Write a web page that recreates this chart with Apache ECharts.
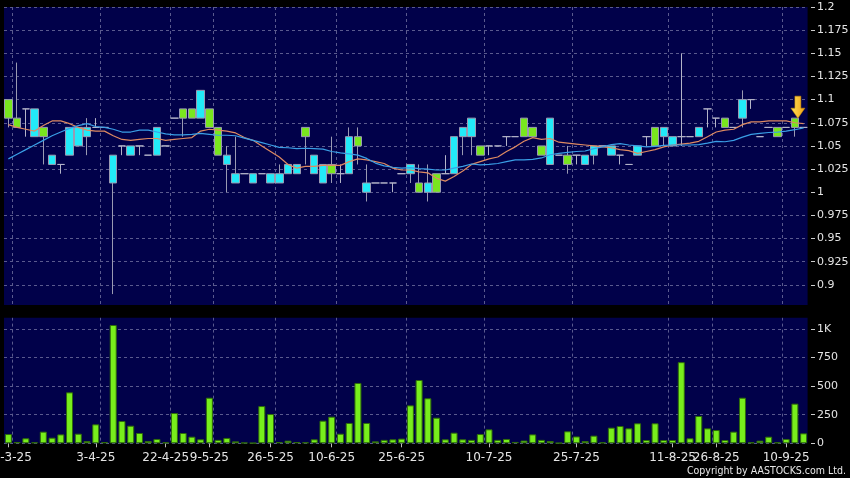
<!DOCTYPE html>
<html><head><meta charset="utf-8">
<script src="https://cdn.jsdelivr.net/npm/echarts@6/dist/echarts.min.js"></script>
<style>html,body{margin:0;padding:0;background:#000;}#c{width:850px;height:478px;}</style>
</head><body><div id="c"></div>
<script>
const categories = ['20-3-25','21-3-25','24-3-25','25-3-25','26-3-25','27-3-25','28-3-25','31-3-25','1-4-25','2-4-25',
'3-4-25','7-4-25','8-4-25','9-4-25','11-4-25','14-4-25','15-4-25','17-4-25','22-4-25','24-4-25',
'28-4-25','30-4-25','6-5-25','9-5-25','12-5-25','14-5-25','15-5-25','19-5-25','20-5-25','22-5-25',
'26-5-25','27-5-25','29-5-25','30-5-25','3-6-25','4-6-25','6-6-25','10-6-25','11-6-25','12-6-25',
'13-6-25','16-6-25','18-6-25','19-6-25','23-6-25','25-6-25','26-6-25','27-6-25','30-6-25','2-7-25',
'3-7-25','4-7-25','7-7-25','8-7-25','9-7-25','10-7-25','11-7-25','14-7-25','15-7-25','16-7-25',
'17-7-25','18-7-25','21-7-25','22-7-25','24-7-25','25-7-25','28-7-25','29-7-25','30-7-25','31-7-25',
'1-8-25','4-8-25','5-8-25','6-8-25','7-8-25','8-8-25','11-8-25','12-8-25','14-8-25','18-8-25',
'21-8-25','26-8-25','27-8-25','28-8-25','29-8-25','1-9-25','2-9-25','4-9-25','8-9-25','10-9-25',
'11-9-25','12-9-25'];

const opens = [1.10,1.08,1.09,1.06,1.07,1.03,1.03,1.04,1.05,1.06,
1.07,1.07,1.01,1.05,1.04,1.05,1.04,1.04,1.05,1.08,
1.09,1.09,1.08,1.09,1.07,1.03,1.01,1.02,1.01,1.02,
1.01,1.01,1.02,1.02,1.07,1.02,1.01,1.03,1.02,1.02,
1.06,1.00,1.01,1.01,1.01,1.02,1.02,1.01,1.00,1.02,
1.02,1.02,1.06,1.06,1.05,1.05,1.05,1.06,1.06,1.08,
1.07,1.05,1.03,1.04,1.04,1.04,1.03,1.04,1.05,1.04,
1.04,1.03,1.04,1.06,1.07,1.06,1.05,1.06,1.06,1.06,
1.09,1.08,1.08,1.07,1.08,1.10,1.06,1.07,1.07,1.07,
1.08,1.07];

const closes = [1.08,1.07,1.09,1.09,1.06,1.04,1.03,1.07,1.07,1.07,
1.07,1.07,1.04,1.05,1.05,1.05,1.04,1.07,1.05,1.08,
1.08,1.08,1.11,1.07,1.04,1.04,1.02,1.02,1.02,1.02,
1.02,1.02,1.03,1.03,1.06,1.04,1.03,1.02,1.02,1.06,
1.05,1.01,1.01,1.01,1.01,1.02,1.03,1.00,1.01,1.00,
1.02,1.06,1.07,1.08,1.04,1.05,1.05,1.06,1.06,1.06,
1.06,1.04,1.08,1.04,1.03,1.04,1.04,1.05,1.05,1.05,
1.04,1.03,1.05,1.06,1.05,1.07,1.06,1.06,1.06,1.07,
1.09,1.08,1.07,1.07,1.10,1.10,1.06,1.07,1.06,1.07,
1.07,1.07];

const lows = [1.07,1.07,1.06,1.06,1.03,1.03,1.02,1.04,1.05,1.04,
1.07,1.07,0.89,1.04,1.04,1.04,1.04,1.04,1.05,1.08,
1.06,1.08,1.08,1.07,1.04,1.00,1.01,1.02,1.01,1.02,
1.01,1.01,1.02,1.02,1.03,1.02,1.01,1.01,1.01,1.02,
1.03,0.99,1.01,1.01,1.00,1.02,1.01,1.00,0.99,1.00,
1.02,1.02,1.04,1.04,1.04,1.04,1.05,1.05,1.06,1.06,
1.06,1.04,1.03,1.04,1.02,1.03,1.03,1.03,1.05,1.04,
1.03,1.03,1.04,1.05,1.05,1.05,1.05,1.05,1.06,1.06,
1.07,1.07,1.07,1.07,1.07,1.09,1.06,1.07,1.06,1.07,
1.06,1.07];

const highs = [1.10,1.14,1.09,1.09,1.07,1.04,1.03,1.07,1.07,1.08,
1.08,1.07,1.04,1.05,1.05,1.05,1.04,1.07,1.05,1.08,
1.09,1.09,1.11,1.09,1.07,1.05,1.06,1.02,1.02,1.02,
1.02,1.03,1.03,1.03,1.07,1.04,1.03,1.06,1.03,1.07,
1.07,1.03,1.01,1.01,1.01,1.02,1.03,1.03,1.03,1.02,
1.04,1.06,1.07,1.08,1.05,1.05,1.05,1.06,1.06,1.08,
1.07,1.05,1.08,1.04,1.05,1.04,1.04,1.05,1.05,1.05,
1.04,1.03,1.05,1.06,1.07,1.07,1.06,1.15,1.06,1.07,
1.09,1.08,1.08,1.07,1.11,1.10,1.06,1.07,1.07,1.07,
1.08,1.07];

const volumes = [81,11,44,9,102,49,78,446,84,20,
166,11,1035,195,154,90,20,38,9,265,
90,58,35,399,30,47,17,6,3,326,
256,11,23,11,9,35,198,233,84,178,
528,178,17,30,35,41,332,554,394,224,
35,93,35,30,81,122,30,38,12,24,
78,30,20,3,105,60,20,67,9,137,
151,131,175,29,175,29,29,710,44,239,
131,116,29,102,399,9,23,58,9,38,
347,87];

const ma10 = [1.073,1.070,1.068,1.066,1.072,1.077,1.077,1.074,1.070,1.067,
1.066,1.066,1.061,1.057,1.056,1.057,1.058,1.058,1.056,1.057,
1.058,1.059,1.066,1.068,1.067,1.066,1.064,1.059,1.056,1.050,
1.044,1.038,1.030,1.026,1.028,1.028,1.029,1.029,1.029,1.033,
1.036,1.035,1.033,1.031,1.026,1.024,1.024,1.022,1.021,1.015,
1.012,1.017,1.023,1.030,1.033,1.036,1.038,1.044,1.049,1.055,
1.059,1.057,1.058,1.054,1.053,1.052,1.051,1.050,1.049,1.048,
1.046,1.045,1.042,1.044,1.046,1.049,1.051,1.052,1.053,1.055,
1.060,1.065,1.067,1.068,1.073,1.076,1.076,1.077,1.077,1.077,
1.075,1.074];

const ma20 = [1.036,1.041,1.046,1.051,1.056,1.061,1.065,1.069,1.072,1.074,
1.071,1.070,1.068,1.065,1.065,1.067,1.067,1.065,1.063,1.062,
1.062,1.0625,1.0635,1.0625,1.0615,1.0615,1.061,1.0585,1.056,1.0535,
1.051,1.0485,1.048,1.047,1.0475,1.047,1.0465,1.044,1.0425,1.0415,
1.040,1.0365,1.0315,1.0285,1.027,1.026,1.0265,1.0255,1.025,1.024,
1.024,1.026,1.028,1.0305,1.0295,1.030,1.031,1.033,1.035,1.035,
1.0355,1.037,1.0405,1.042,1.043,1.044,1.0445,1.047,1.049,1.0515,
1.0525,1.051,1.050,1.049,1.0495,1.0505,1.051,1.051,1.051,1.0515,
1.053,1.055,1.0545,1.056,1.0595,1.0625,1.0635,1.0645,1.065,1.066,
1.0675,1.0695];

// indices of categories carrying a date label / a vertical grid line
const labelIdx = [0,10,18,23,30,37,45,55,65,76,81,89];
const gridLineIdx = [1,11,19,24,31,38,46,55,65,76,81,89];
const priceTicks = {min:0.875, max:1.2, step:0.025};
const volTicks = {min:0, max:1100, step:250, shown:[0,250,500,750,1000]};

const candleData = opens.map((o,i)=>[o, closes[i], lows[i], highs[i]]);

const chart = echarts.init(document.getElementById('c'), null, {renderer:'canvas'});
const gridLine = {show:true, lineStyle:{color:'#5a5a8e', type:[3,3], width:1}};
const labelColor = '#e4e4e4';
const arrowIdx = categories.length - 2;

chart.setOption({
  backgroundColor:'#000000',
  animation:false,
  grid:[
    {left:4, right:42, top:7, height:301, show:true, backgroundColor:'#01014a', borderWidth:0, outerBoundsMode:'none'},
    {left:4, right:42, top:317.6, height:125.7, show:true, backgroundColor:'#01014a', borderWidth:0, outerBoundsMode:'none'}
  ],
  xAxis:[
    {type:'category', gridIndex:0, data:categories, boundaryGap:true,
     axisLine:{show:false}, axisTick:{show:false}, axisLabel:{show:false},
     splitLine:Object.assign({interval:(i)=>gridLineIdx.indexOf(i)>=0}, gridLine)},
    {type:'category', gridIndex:1, data:categories, boundaryGap:true,
     axisLine:{show:false},
     axisTick:{show:true, alignWithLabel:true, length:4, interval:(i)=>labelIdx.indexOf(i)>=0, lineStyle:{color:'#bbbbbb'}},
     axisLabel:{show:true, interval:(i)=>labelIdx.indexOf(i)>=0, color:labelColor, fontSize:12, fontFamily:'DejaVu Sans', margin:9},
     splitLine:Object.assign({interval:(i)=>gridLineIdx.indexOf(i)>=0}, gridLine)}
  ],
  yAxis:[
    {type:'value', gridIndex:0, position:'right', offset:3, min:priceTicks.min, max:priceTicks.max, interval:priceTicks.step, scale:true,
     axisLine:{show:false}, axisTick:{show:true, length:4, lineStyle:{color:'#cccccc'}},
     axisLabel:{color:labelColor, fontSize:11, fontFamily:'DejaVu Sans', margin:6,
       formatter:(v)=> v < priceTicks.min + 0.001 ? '' : String(+v.toFixed(3))},
     splitLine:gridLine},
    {type:'value', gridIndex:1, position:'right', offset:3, min:volTicks.min, max:volTicks.max, interval:volTicks.step,
     axisLine:{show:false}, axisTick:{show:true, length:4, customValues:volTicks.shown, lineStyle:{color:'#cccccc'}},
     axisLabel:{color:labelColor, fontSize:11, fontFamily:'DejaVu Sans', margin:6, customValues:volTicks.shown,
       formatter:(v)=> v===1000 ? '1K' : String(v)},
     splitLine:gridLine}
  ],
  series:[
    {type:'candlestick', xAxisIndex:0, yAxisIndex:0, data:candleData, barWidth:8,
     itemStyle:{color:'#22eaf8', color0:'#79e61e', borderColor:'#9a9ab2', borderColor0:'#9a9ab2', borderColorDoji:'#b4b4c8', borderWidth:1},
     markPoint:{
       symbol:'path://M4,0 L10,0 L10,12 L14,12 L7,22 L0,12 L4,12 Z',
       symbolSize:[14,22], symbolOffset:[3,'-50%'], label:{show:false},
       itemStyle:{color:new echarts.graphic.LinearGradient(0,0,1,0,[{offset:0,color:'#ffe45a'},{offset:1,color:'#f0a014'}]), borderColor:'#c98a00', borderWidth:0.5},
       data:[{coord:[categories[arrowIdx], opens[arrowIdx]]}]
     },
     z:2},
    {type:'line', xAxisIndex:0, yAxisIndex:0, data:ma10, symbol:'none', smooth:false,
     lineStyle:{color:'#de8a62', width:1.2}, z:3},
    {type:'line', xAxisIndex:0, yAxisIndex:0, data:ma20, symbol:'none', smooth:false,
     lineStyle:{color:'#3a9fe6', width:1.2}, z:3},
    {type:'bar', xAxisIndex:1, yAxisIndex:1, data:volumes, barWidth:7,
     itemStyle:{color:'#78ee1c', borderColor:'#2f6c0a', borderWidth:1}}
  ],
  graphic:[
    {type:'rect', z:100, shape:{x:0, y:305, width:850, height:12.6}, style:{fill:'#000000'}},
    {type:'rect', z:100, shape:{x:807.6, y:0, width:2, height:444}, style:{fill:'#000000'}},
    {type:'text', z:100, right:4, top:466, style:{text:'Copyright by AASTOCKS.com Ltd.', fill:'#e8e8e8', fontSize:10.5, fontFamily:'"DejaVu Sans Condensed", "DejaVu Sans"'}}
  ]
});
</script>
</body></html>
